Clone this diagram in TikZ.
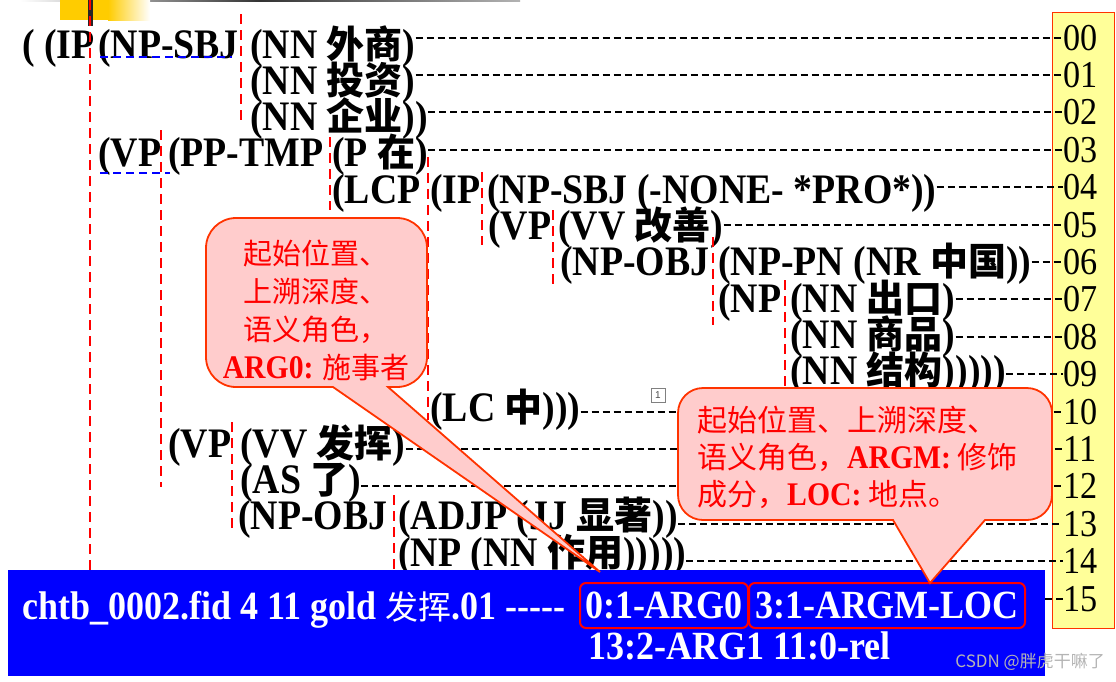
\documentclass[tikz,border=0pt]{standalone}
\usepackage{fontspec}
\newfontfamily\tf[FakeStretch=0.9]{Liberation Serif}
\newfontfamily\cjk{Noto Sans CJK SC}
\newfontfamily\sansf{Liberation Sans}
\newcommand\zh[1]{{\cjk\bfseries\fontsize{38}{38}\selectfont #1}}
\newcommand\zr[1]{{\cjk\mdseries\fontsize{33}{33}\selectfont #1}}
\definecolor{calfill}{HTML}{FFCCCC}
\definecolor{calline}{HTML}{FF3300}
\definecolor{yel}{HTML}{FFFF99}
\definecolor{goldy}{HTML}{FFCC00}
\definecolor{bblue}{HTML}{0000FF}
\definecolor{wm}{HTML}{B4B4B4}
\begin{document}
\begin{tikzpicture}[x=1pt,y=-1pt,
  tr/.style={anchor=base west,inner sep=0pt,font=\tf\bfseries\fontsize{42}{42}\selectfont},
  num/.style={anchor=base west,inner sep=0pt,font=\tf\fontsize{38}{38}\selectfont},
  dl/.style={black,line width=1.9pt,dash pattern=on 7pt off 4pt},
  vsep/.style={red,line width=1.9pt,dash pattern=on 10pt off 6pt},
  bsep/.style={blue,line width=1.6pt,dash pattern=on 8pt off 5pt},
  callout/.style={fill=calfill,draw=calline,line width=1.8pt},
  redbox/.style={draw=red,line width=2pt,rounded corners=6pt,text=white,inner sep=0pt,
    font=\tf\bfseries\fontsize{40}{40}\selectfont},
  bbtext/.style={anchor=base west,inner sep=0pt,text=white,font=\tf\bfseries\fontsize{40}{40}\selectfont}
]
\useasboundingbox (0,0) rectangle (1116,681);
% top decoration
\shade[left color=white,right color=black!80] (20,0) rectangle (260,1.5);
\shade[left color=black!80,right color=black!30] (260,0) rectangle (520,1.5);
\fill[goldy] (60,0) rectangle (108,20);
\shade[left color=goldy,right color=white] (108,0) rectangle (150,20);
\fill[black!85] (88,0) rectangle (92.5,26);
% right number column
\fill[yel,draw=calline,line width=1pt] (1052,12) rectangle (1114,628);
\foreach \i/\t in {0/00,1/01,2/02,3/03,4/04,5/05,6/06,7/07,8/08,9/09,10/10,11/11,12/12,13/13,14/14,15/15}
  \node[num] (n\i) at (1063,{50+37.4*\i}) {\t};
% tree text
\node[tr] (a0) at (22,58) {( (IP};
\node[tr] (a1) at (98,58) {(NP-SBJ};
\node[tr] (t0) at (250,58) {(NN \zh{外商})};
\node[tr] (t1) at (250,94.3) {(NN \zh{投资})};
\node[tr] (t2) at (250,130.6) {(NN \zh{企业}))};
\node[tr] (b3) at (98,166.9) {(VP};
\node[tr] (c3) at (168,166.9) {(PP-TMP};
\node[tr] (t3) at (332,166.9) {(P \zh{在})};
\node[tr] (b4) at (332,203.2) {(LCP};
\node[tr] (c4) at (430,203.2) {(IP};
\node[tr] (t4) at (487,203.2) {(NP-SBJ (-NONE- *PRO*))};
\node[tr] (b5) at (488,239.5) {(VP};
\node[tr] (t5) at (558,239.5) {(VV \zh{改善})};
\node[tr] (b6) at (560,275.8) {(NP-OBJ};
\node[tr] (t6) at (718,275.8) {(NP-PN (NR \zh{中国}))};
\node[tr] (b7) at (718,312.1) {(NP};
\node[tr] (t7) at (790,312.1) {(NN \zh{出口})};
\node[tr] (t8) at (790,348.4) {(NN \zh{商品})};
\node[tr] (t9) at (790,384.7) {(NN \zh{结构})))))};
\node[tr] (t10) at (430,421) {(LC \zh{中})))};
\node[tr] (b11) at (168,457.3) {(VP};
\node[tr] (t11) at (240,457.3) {(VV \zh{发挥})};
\node[tr] (t12) at (240,493.6) {(AS \zh{了})};
\node[tr] (b13) at (238,529.9) {(NP-OBJ};
\node[tr] (t13) at (398,529.9) {(ADJP (JJ \zh{显著}))};
\node[tr] (t14) at (398,566.2) {(NP (NN \zh{作用})))))};
% small marker box
\node[draw=black!50,line width=0.6pt,minimum width=14pt,minimum height=14pt,inner sep=0pt,
  font=\sansf\fontsize{10}{10}\selectfont,text=black!70] (mk) at (658,395) {1};
% dashed connectors to row numbers
\foreach \i in {0,...,14}
  \draw[dl] (t\i.east |- n\i.west) -- (n\i.west);
% red separators
\draw[vsep] (90,0) -- (90,570);
\draw[vsep] (241,14) -- (241,122);
\draw[vsep] (161,130) -- (161,487);
\draw[vsep] (330,137) -- (330,210);
\draw[vsep] (428,157) -- (428,420);
\draw[vsep] (482,172) -- (482,245);
\draw[vsep] (553,210) -- (553,287);
\draw[vsep] (713,237) -- (713,325);
\draw[vsep] (785,280) -- (785,388);
\draw[vsep] (232,422) -- (232,532);
\draw[vsep] (394,495) -- (394,570);
% blue underlines
\draw[bsep] (100,57) -- (232,57);
\draw[bsep] (100,173) -- (170,173);
% blue box
\node[fill=bblue,inner sep=0pt,minimum width=1037pt,minimum height=106pt,anchor=north west] (bb) at (8,570) {};
\draw[dl] (bb.east |- n15.west) -- (n15.west);
\node[bbtext] (l1) at (22,619) {chtb\_0002.fid 4 11 gold \zr{发挥}.01 -----};
\node[redbox,minimum width=168pt,minimum height=45pt] (r1) at (664,605.5) {0:1-ARG0};
\node[redbox,minimum width=276pt,minimum height=45pt] (r2) at (887,605.5) {3:1-ARGM-LOC};
\node[bbtext] (l2) at (588,659) {13:2-ARG1 11:0-rel};
\node[anchor=east,inner sep=0pt,text=wm,font=\cjk\fontsize{17}{17}\selectfont] (wmk) at (1105,662) {CSDN @胖虎干嘛了};
% callout 1
\draw[callout] (600,572) -- (333,387) {[rounded corners=30pt] -- (206,387) -- (206,218) -- (427,218) -- (427,387)} -- (388,387) -- cycle;
\node[align=center,inner sep=0pt,text=red,font=\cjk\fontsize{29}{38}\selectfont] (c1t) at (316,310)
  {起始位置、\\上溯深度、\\语义角色，\\{\tf\bfseries\fontsize{33}{38}\selectfont ARG0:} 施事者};
% callout 2
\draw[callout] (930,583) -- (893,520) {[rounded corners=25pt] -- (678,520) -- (678,388) -- (1052,388) -- (1052,520)} -- (985,520) -- cycle;
\node[align=left,anchor=west,inner sep=0pt,text=red,font=\cjk\fontsize{30}{37}\selectfont] (c2t) at (697,457)
  {起始位置、上溯深度、\\语义角色，{\tf\bfseries\fontsize{33}{37}\selectfont ARGM:} 修饰\\成分，{\tf\bfseries\fontsize{33}{37}\selectfont LOC:} 地点。};
\end{tikzpicture}
\end{document}
